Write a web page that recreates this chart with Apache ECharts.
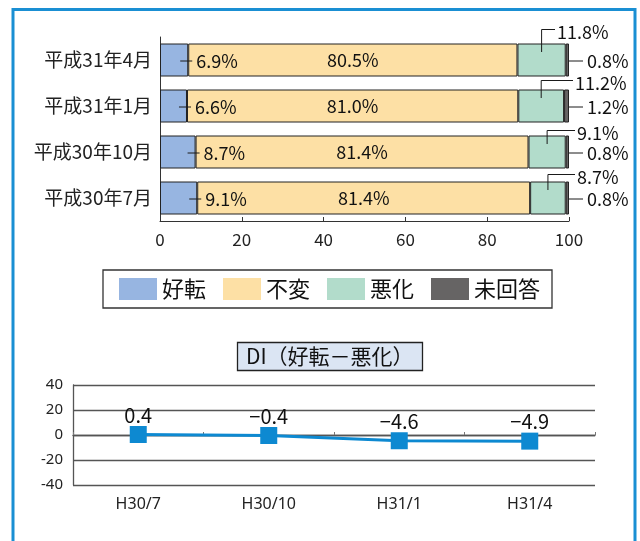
<!DOCTYPE html>
<html><head><meta charset="utf-8">
<script src="https://cdn.jsdelivr.net/npm/echarts@6/dist/echarts.min.js"></script>
<style>html,body{margin:0;padding:0;background:#fff}#c{width:640px;height:541px}</style>
</head><body><div id="c"></div>
<script>
// ---- data ----
const categories = ['平成30年7月', '平成30年10月', '平成31年1月', '平成31年4月']; // bottom to top
const improved  = [9.1, 8.7, 6.6, 6.9];
const unchanged = [81.4, 81.4, 81.0, 80.5];
const worsened  = [8.7, 9.1, 11.2, 11.8];
const noAnswer  = [0.8, 0.8, 1.2, 0.8];
const seriesNames = ['好転', '不変', '悪化', '未回答'];
const diCategories = ['H30/7', 'H30/10', 'H31/1', 'H31/4'];
const diValues = [0.4, -0.4, -4.6, -4.9];
const diTitle = 'DI（好転－悪化）';

// ---- layout / style (not data) ----
const FONT = 'Noto Sans CJK JP';
const LATIN = 'Noto Sans';
const COLORS = ['#97b5e1', '#fde0a5', '#b2dccb', '#666464'];
const BAR_W = 33;
const worseLabelOffset = [[8, -4], [8, -2], [6, -6], [-12, -11]];

const chart = echarts.init(document.getElementById('c'), null, {renderer: 'canvas'});

function fmt(v) { return v.toFixed(1) + '%'; }

function renderLabels(params, api) {
  const a = api.value(0), idx = api.value(1), b = api.value(2), c = api.value(3), d = api.value(4);
  const pA = api.coord([a, idx]);
  const cy = pA[1];
  const top = cy - BAR_W / 2;
  const xMidC = api.coord([a + b + c / 2, idx])[0];
  const xEnd = api.coord([a + b + c + d, idx])[0];
  const off = worseLabelOffset[params.dataIndex];
  const tX = xEnd + off[0];
  const tY = top + off[1];
  const lineY = tY - 3;
  const lineStyle = {stroke: '#1a1a1a', lineWidth: 1};
  const textStyle = (t, x, y) => ({text: t, x: x, y: y, fill: '#111', font: '18px "' + FONT + '"', align: 'left', verticalAlign: 'middle'});
  return {
    type: 'group',
    children: [
      {type: 'line', shape: {x1: pA[0] - 8, y1: cy + 1, x2: pA[0] + 4, y2: cy + 1}, style: lineStyle},
      {type: 'text', style: textStyle(fmt(a), pA[0] + 8, cy + 1)},
      {type: 'line', shape: {x1: xMidC, y1: cy - 8, x2: xMidC, y2: lineY}, style: lineStyle},
      {type: 'line', shape: {x1: xMidC, y1: lineY, x2: tX - 2, y2: lineY}, style: lineStyle},
      {type: 'text', style: textStyle(fmt(c), tX, tY)},
      {type: 'line', shape: {x1: xEnd, y1: cy + 1, x2: xEnd + 14, y2: cy + 1}, style: lineStyle},
      {type: 'text', style: textStyle(fmt(d), xEnd + 18, cy + 1)}
    ]
  };
}

const valueLists = [improved, unchanged, worsened, noAnswer];
const barSeries = seriesNames.map((name, k) => ({
  name: name,
  type: 'bar',
  stack: 'total',
  xAxisIndex: 0,
  yAxisIndex: 0,
  barWidth: BAR_W,
  data: valueLists[k],
  itemStyle: {color: COLORS[k], borderColor: '#222', borderWidth: 1},
  label: k === 1 ? {show: true, position: 'inside', formatter: p => fmt(p.value), fontSize: 18, fontFamily: FONT, color: '#111'} : {show: false},
  emphasis: {disabled: true}
}));

const option = {
  animation: false,
  textStyle: {fontFamily: FONT},
  graphic: [{
    type: 'rect', shape: {x: 13, y: 9.5, width: 622, height: 600},
    style: {fill: 'none', stroke: '#1a8fd3', lineWidth: 3}, silent: true
  }],
  title: {
    text: diTitle, left: 237, top: 342,
    padding: [4, 9, 4, 9],
    backgroundColor: '#dbe5f3', borderColor: '#222', borderWidth: 1.3,
    textStyle: {fontSize: 21, fontWeight: 'normal', color: '#111', fontFamily: FONT}
  },
  legend: {
    data: seriesNames,
    left: 103, top: 270,
    padding: [8, 12, 8, 16],
    itemWidth: 38, itemHeight: 22, itemGap: 17,
    borderColor: '#333', borderWidth: 1.3,
    icon: 'rect',
    itemStyle: {borderWidth: 0},
    textStyle: {fontSize: 22, color: '#111', fontFamily: FONT},
    selectedMode: false
  },
  grid: [
    {left: 160, top: 37, width: 409, height: 184},
    {left: 73, top: 385, width: 522, height: 100}
  ],
  xAxis: [
    {gridIndex: 0, type: 'value', min: 0, max: 100, interval: 20,
     axisLine: {show: true, lineStyle: {color: '#333', width: 1}},
     axisTick: {show: true, inside: true, length: 4, lineStyle: {color: '#333'}},
     splitLine: {show: false},
     axisLabel: {fontSize: 17, color: '#222', margin: 10, fontFamily: FONT}},
    {gridIndex: 1, type: 'category', data: diCategories, position: 'bottom',
     axisLine: {show: false, onZero: false},
     axisTick: {show: false},
     axisLabel: {fontSize: 16, color: '#222', margin: 11, fontFamily: LATIN}},
    {gridIndex: 1, type: 'category', data: diCategories, position: 'bottom',
     axisLine: {show: true, onZero: true, lineStyle: {color: '#555', width: 1.3}},
     axisTick: {show: true, inside: true, length: 3, lineStyle: {color: '#777'}},
     axisLabel: {show: false}}
  ],
  yAxis: [
    {gridIndex: 0, type: 'category', data: categories,
     axisLine: {show: true, lineStyle: {color: '#333', width: 1}},
     axisTick: {show: false},
     axisLabel: {fontSize: 19, color: '#222', margin: 8, fontFamily: FONT}},
    {gridIndex: 1, type: 'value', min: -40, max: 40, interval: 20,
     axisLine: {show: true, lineStyle: {color: '#555', width: 1.3}},
     axisTick: {show: false},
     splitLine: {show: true, lineStyle: {color: '#555', width: 1.3}},
     axisLabel: {fontSize: 15, color: '#222', margin: 10, fontFamily: LATIN}}
  ],
  series: barSeries.concat([
    {
      type: 'custom',
      xAxisIndex: 0, yAxisIndex: 0,
      renderItem: renderLabels,
      encode: {x: 0, y: 1},
      data: categories.map((c, i) => [improved[i], i, unchanged[i], worsened[i], noAnswer[i]]),
      z: 10, silent: true
    },
    {
      type: 'line',
      xAxisIndex: 1, yAxisIndex: 1,
      data: diValues,
      symbol: 'rect', symbolSize: 17,
      lineStyle: {color: '#0d89d1', width: 3},
      itemStyle: {color: '#0d89d1'},
      label: {show: true, position: 'top', distance: 1, fontSize: 20, color: '#111', fontFamily: FONT,
              formatter: p => String(p.value).replace('-', '−')},
      emphasis: {disabled: true},
      z: 5
    }
  ])
};
chart.setOption(option);
</script></body></html>
